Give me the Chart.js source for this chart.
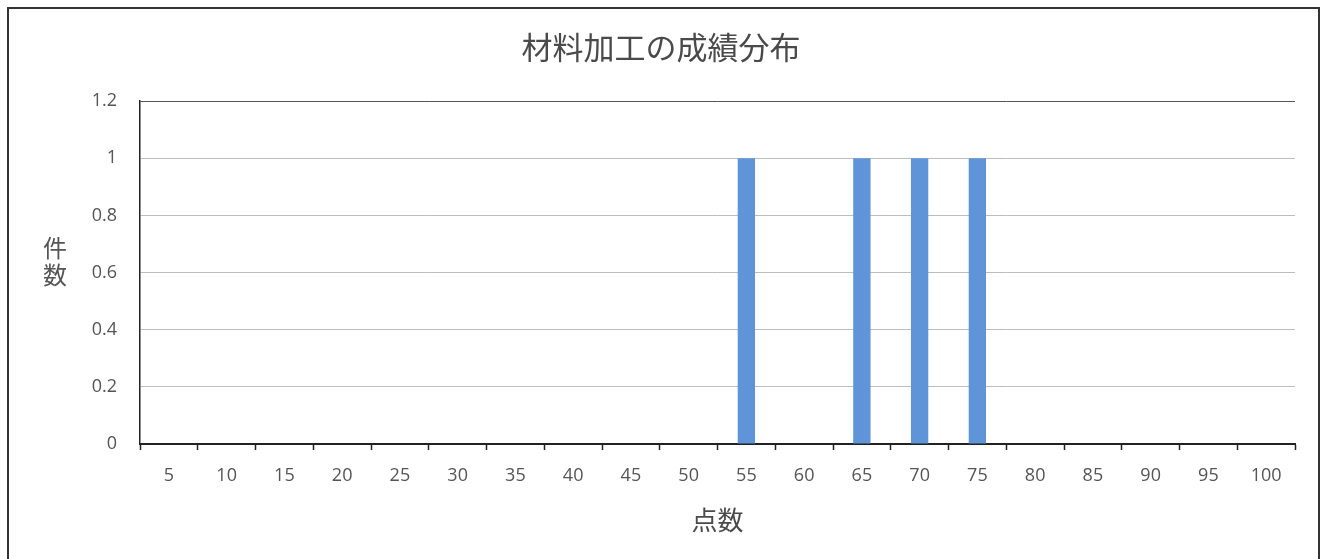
<!DOCTYPE html>
<html lang="ja">
<head>
<meta charset="utf-8">
<script src="https://cdn.jsdelivr.net/npm/chart.js@4"></script>
<style>
  html, body { margin: 0; padding: 0; background: #fff; }
  #wrap { position: relative; width: 1322px; height: 559px; overflow: hidden; }
  #frame {
    position: absolute; left: 7px; top: 7px; width: 1309px; height: 600px;
    border: 2px solid #333; pointer-events: none;
  }
  canvas { position: absolute; left: 0; top: 0; }
</style>
</head>
<body>
<div id="wrap">
  <canvas id="myChart" width="1322" height="559"></canvas>
  <div id="frame"></div>
</div>
<script>
// データ
const scores = ["5", "10", "15", "20", "25", "30", "35", "40", "45", "50",
  "55", "60", "65", "70", "75", "80", "85", "90", "95", "100"];
const counts = [0, 0, 0, 0, 0, 0, 0, 0, 0, 0,
  1, 0, 1, 1, 1, 0, 0, 0, 0, 0];
const yTickLabels = ["0", "0.2", "0.4", "0.6", "0.8", "1", "1.2"];

const FONT = "'Noto Sans CJK JP', 'Noto Sans', sans-serif";
const NUM_FONT = "'Open Sans', 'Noto Sans', sans-serif";

// 縦書きの軸タイトル（件 / 数）
const stackedYTitle = {
  id: "stackedYTitle",
  afterDraw(chart) {
    const { ctx, chartArea } = chart;
    ctx.save();
    ctx.font = "24px " + FONT;
    ctx.fillStyle = "#555";
    ctx.textAlign = "center";
    ctx.textBaseline = "middle";
    const x = chartArea.left - 85;
    const mid = (chartArea.top + chartArea.bottom) / 2;
    ctx.fillText("件", x, mid - 25);
    ctx.fillText("数", x, mid + 2);
    ctx.restore();
  },
};

const canvas = document.getElementById("myChart");
const myChart = new Chart(canvas, {
  type: "bar",
  data: {
    labels: scores,
    datasets: [
      {
        label: "件数",
        data: counts,
        backgroundColor: "#5f95d8",
        borderWidth: 0,
        barPercentage: 0.3,
        categoryPercentage: 1,
      },
    ],
  },
  options: {
    responsive: false,
    animation: false,
    layout: { padding: 0 },
    plugins: {
      legend: { display: false },
      tooltip: { enabled: false },
      title: {
        display: true,
        text: "材料加工の成績分布",
        color: "#4a4a4a",
        font: { family: FONT, size: 31, weight: "normal" },
        padding: { top: 29, bottom: 35 },
      },
    },
    scales: {
      x: {
        afterFit: (scale) => { scale.height = 115; },
        grid: {
          offset: true,
          drawOnChartArea: false,
          drawTicks: true,
          tickLength: 6,
          tickColor: "#222",
          tickWidth: 1.5,
        },
        border: { color: "#222", width: 2 },
        ticks: {
          color: "#555",
          padding: 15,
          maxRotation: 0,
          autoSkip: false,
          font: { family: NUM_FONT, size: 18 },
        },
        title: {
          display: true,
          text: "点数",
          color: "#4a4a4a",
          font: { family: FONT, size: 26 },
          padding: { top: 0, bottom: 23 },
        },
      },
      y: {
        min: 0,
        max: 1.2,
        afterFit: (scale) => { scale.width = 140; },
        afterBuildTicks: (scale) => {
          scale.ticks = yTickLabels.map((t) => ({ value: Number(t) }));
        },
        grid: {
          drawTicks: false,
          color: (c) => (c.index === 6 ? "#555" : "#bdbdbd"),
          lineWidth: 1,
        },
        border: { color: "#222", width: 1.5 },
        ticks: {
          color: "#555",
          padding: 23,
          font: { family: NUM_FONT, size: 18 },
          callback: (v, i) => yTickLabels[i],
        },
      },
      // 右側の余白用（非表示）
      yRight: {
        position: "right",
        afterFit: (scale) => { scale.width = 27; },
        grid: { display: false },
        border: { display: false },
        ticks: { display: false },
      },
    },
  },
  plugins: [stackedYTitle],
});
</script>
</body>
</html>
